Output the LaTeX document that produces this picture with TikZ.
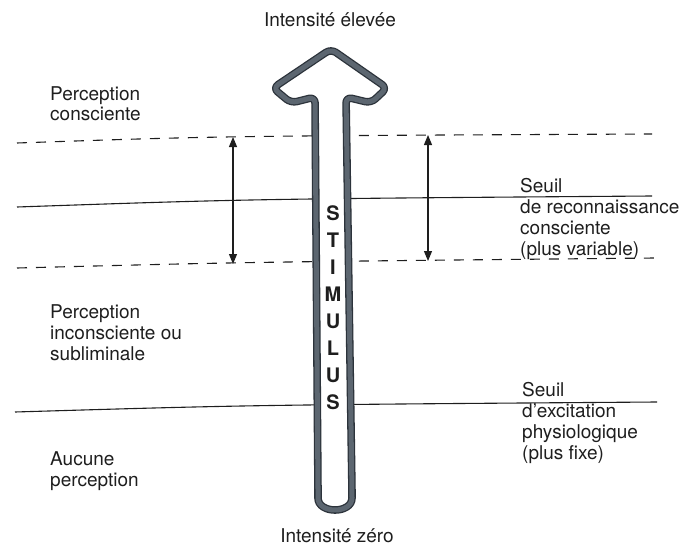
\documentclass[tikz,border=0pt]{standalone}
\usepackage{fontspec}
\setmainfont{TeX Gyre Heros}
\usetikzlibrary{arrows.meta}
\definecolor{ink}{HTML}{1E1E1E}
\definecolor{shaftedge}{HTML}{2C333B}
\definecolor{shaftfill}{HTML}{5C6670}

\begin{document}
\begin{tikzpicture}[x=1pt, y=-1pt,
  % multi-line labels are placed by the baseline of their last line
  lbl/.style={anchor=base west, inner sep=0, align=left, text=ink,
    font=\fontsize{19}{21}\selectfont},
  hdr/.style={anchor=base, inner sep=0, text=ink, font=\fontsize{19}{21}\selectfont},
  level/.style={draw=ink, line width=1.1pt},
  dashlevel/.style={level, dash pattern=on 10pt off 9pt},
  span/.style={draw=ink, line width=1.1pt,
    {Triangle[width=8pt,length=10pt]}-{Triangle[width=8pt,length=10pt]}},
  stimarrow/.style={draw=shaftedge, double=shaftfill, double distance=5pt,
    line width=1.3pt, fill=white, rounded corners=6pt, line join=round},
  stimtext/.style={inner sep=0, align=center, text=ink,
    font=\fontsize{20}{27}\selectfont\bfseries}
]
\useasboundingbox (0,0) rectangle (681,546);

% threshold levels
\coordinate (d1l) at (17,143);  \coordinate (d1r) at (652,134);
\coordinate (s1l) at (17,207);  \coordinate (s1r) at (652,196);
\coordinate (d2l) at (17,268);  \coordinate (d2r) at (655,258);
\coordinate (s2l) at (15,412);  \coordinate (s2r) at (657,402);
\draw[dashlevel] (d1l) .. controls (220,136) .. (d1r);
\draw[level]     (s1l) .. controls (250,199) .. (s1r);
\draw[dashlevel] (d2l) .. controls (250,262) .. (d2r);
\draw[level]     (s2l) .. controls (250,405) .. (s2r);

% variability of the recognition threshold
\coordinate (la) at (233,137); \coordinate (lb) at (233,264);
\coordinate (ra) at (428,135); \coordinate (rb) at (428,261);
\draw[span] (la) -- (lb);
\draw[span] (ra) -- (rb);

% stimulus arrow
\path[stimarrow] (318,492) -- (315,97) -- (291,103) -- (273,88) -- (331,49)
  -- (387,88) -- (371,103) -- (346,97) -- (352,492)
  .. controls (352,514) and (318,514) .. (318,492) -- cycle;
\node[stimtext] (stim) at (333,307.5) {S\\T\\I\\M\\U\\L\\U\\S};

% labels
\node[hdr] (top) at (330,27) {Intensité élevée};
\node[hdr] (bot) at (337,542) {Intensité zéro};
\node[lbl, font=\fontsize{19}{20}\selectfont] (pc) at (50,120) {Perception\\consciente};
\node[lbl] (pi) at (50,360) {Perception\\inconsciente ou\\subliminale};
\node[lbl] (ap) at (50,486) {Aucune\\perception};
\node[lbl] (sr) at (520,255) {Seuil\\de reconnaissance\\consciente\\(plus variable)};
\node[lbl] (se) at (522,459) {Seuil\\d'excitation\\physiologique\\(plus fixe)};
\end{tikzpicture}
\end{document}
